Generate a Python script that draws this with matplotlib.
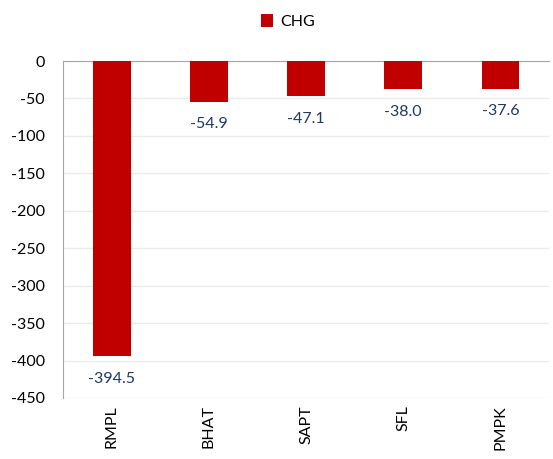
import matplotlib
matplotlib.use("Agg")
import matplotlib.pyplot as plt

plt.rcParams['font.family'] = ['Lato', 'DejaVu Sans']

tickers = ['RMPL', 'BHAT', 'SAPT', 'SFL', 'PMPK']
chg = [-394.5, -54.9, -47.1, -38.0, -37.6]
yticks = [0, -50, -100, -150, -200, -250, -300, -350, -400, -450]

fig = plt.figure(figsize=(5.53, 4.59), dpi=100)
ax = fig.add_axes([0.114, 0.133, 0.879, 0.734])

x = range(len(tickers))
ax.bar(x, chg, width=0.39, color='#C00000', label='CHG', zorder=3)

for xi, v in zip(x, chg):
    ax.annotate(f'{v:.1f}', (xi, v), xytext=(0, -11), textcoords='offset points',
                ha='center', va='top', fontsize=11.5, color='#203864')

ax.set_xlim(-0.5, len(tickers) - 0.5)
ax.set_ylim(-450, 0)
ax.set_yticks(yticks)
ax.set_yticklabels([str(t) for t in yticks], fontsize=11.5)
ax.set_xticks(list(x))
ax.set_xticklabels(tickers, rotation=90, fontsize=11.5)
ax.tick_params(length=0)
ax.tick_params(axis='y', pad=13)
ax.tick_params(axis='x', pad=5)

ax.grid(axis='y', color='#EBEBEB', linewidth=1, zorder=0)
ax.spines['right'].set_visible(False)
ax.spines['bottom'].set_visible(False)
ax.spines['left'].set_color('#A6A6A6')
ax.spines['top'].set_color('#A6A6A6')

fig.legend(loc='upper center', bbox_to_anchor=(0.52, 1.0), frameon=False,
           fontsize=11.5, handlelength=0.8, handleheight=0.8, handletextpad=0.4)

fig.savefig('out.png', dpi=100)
